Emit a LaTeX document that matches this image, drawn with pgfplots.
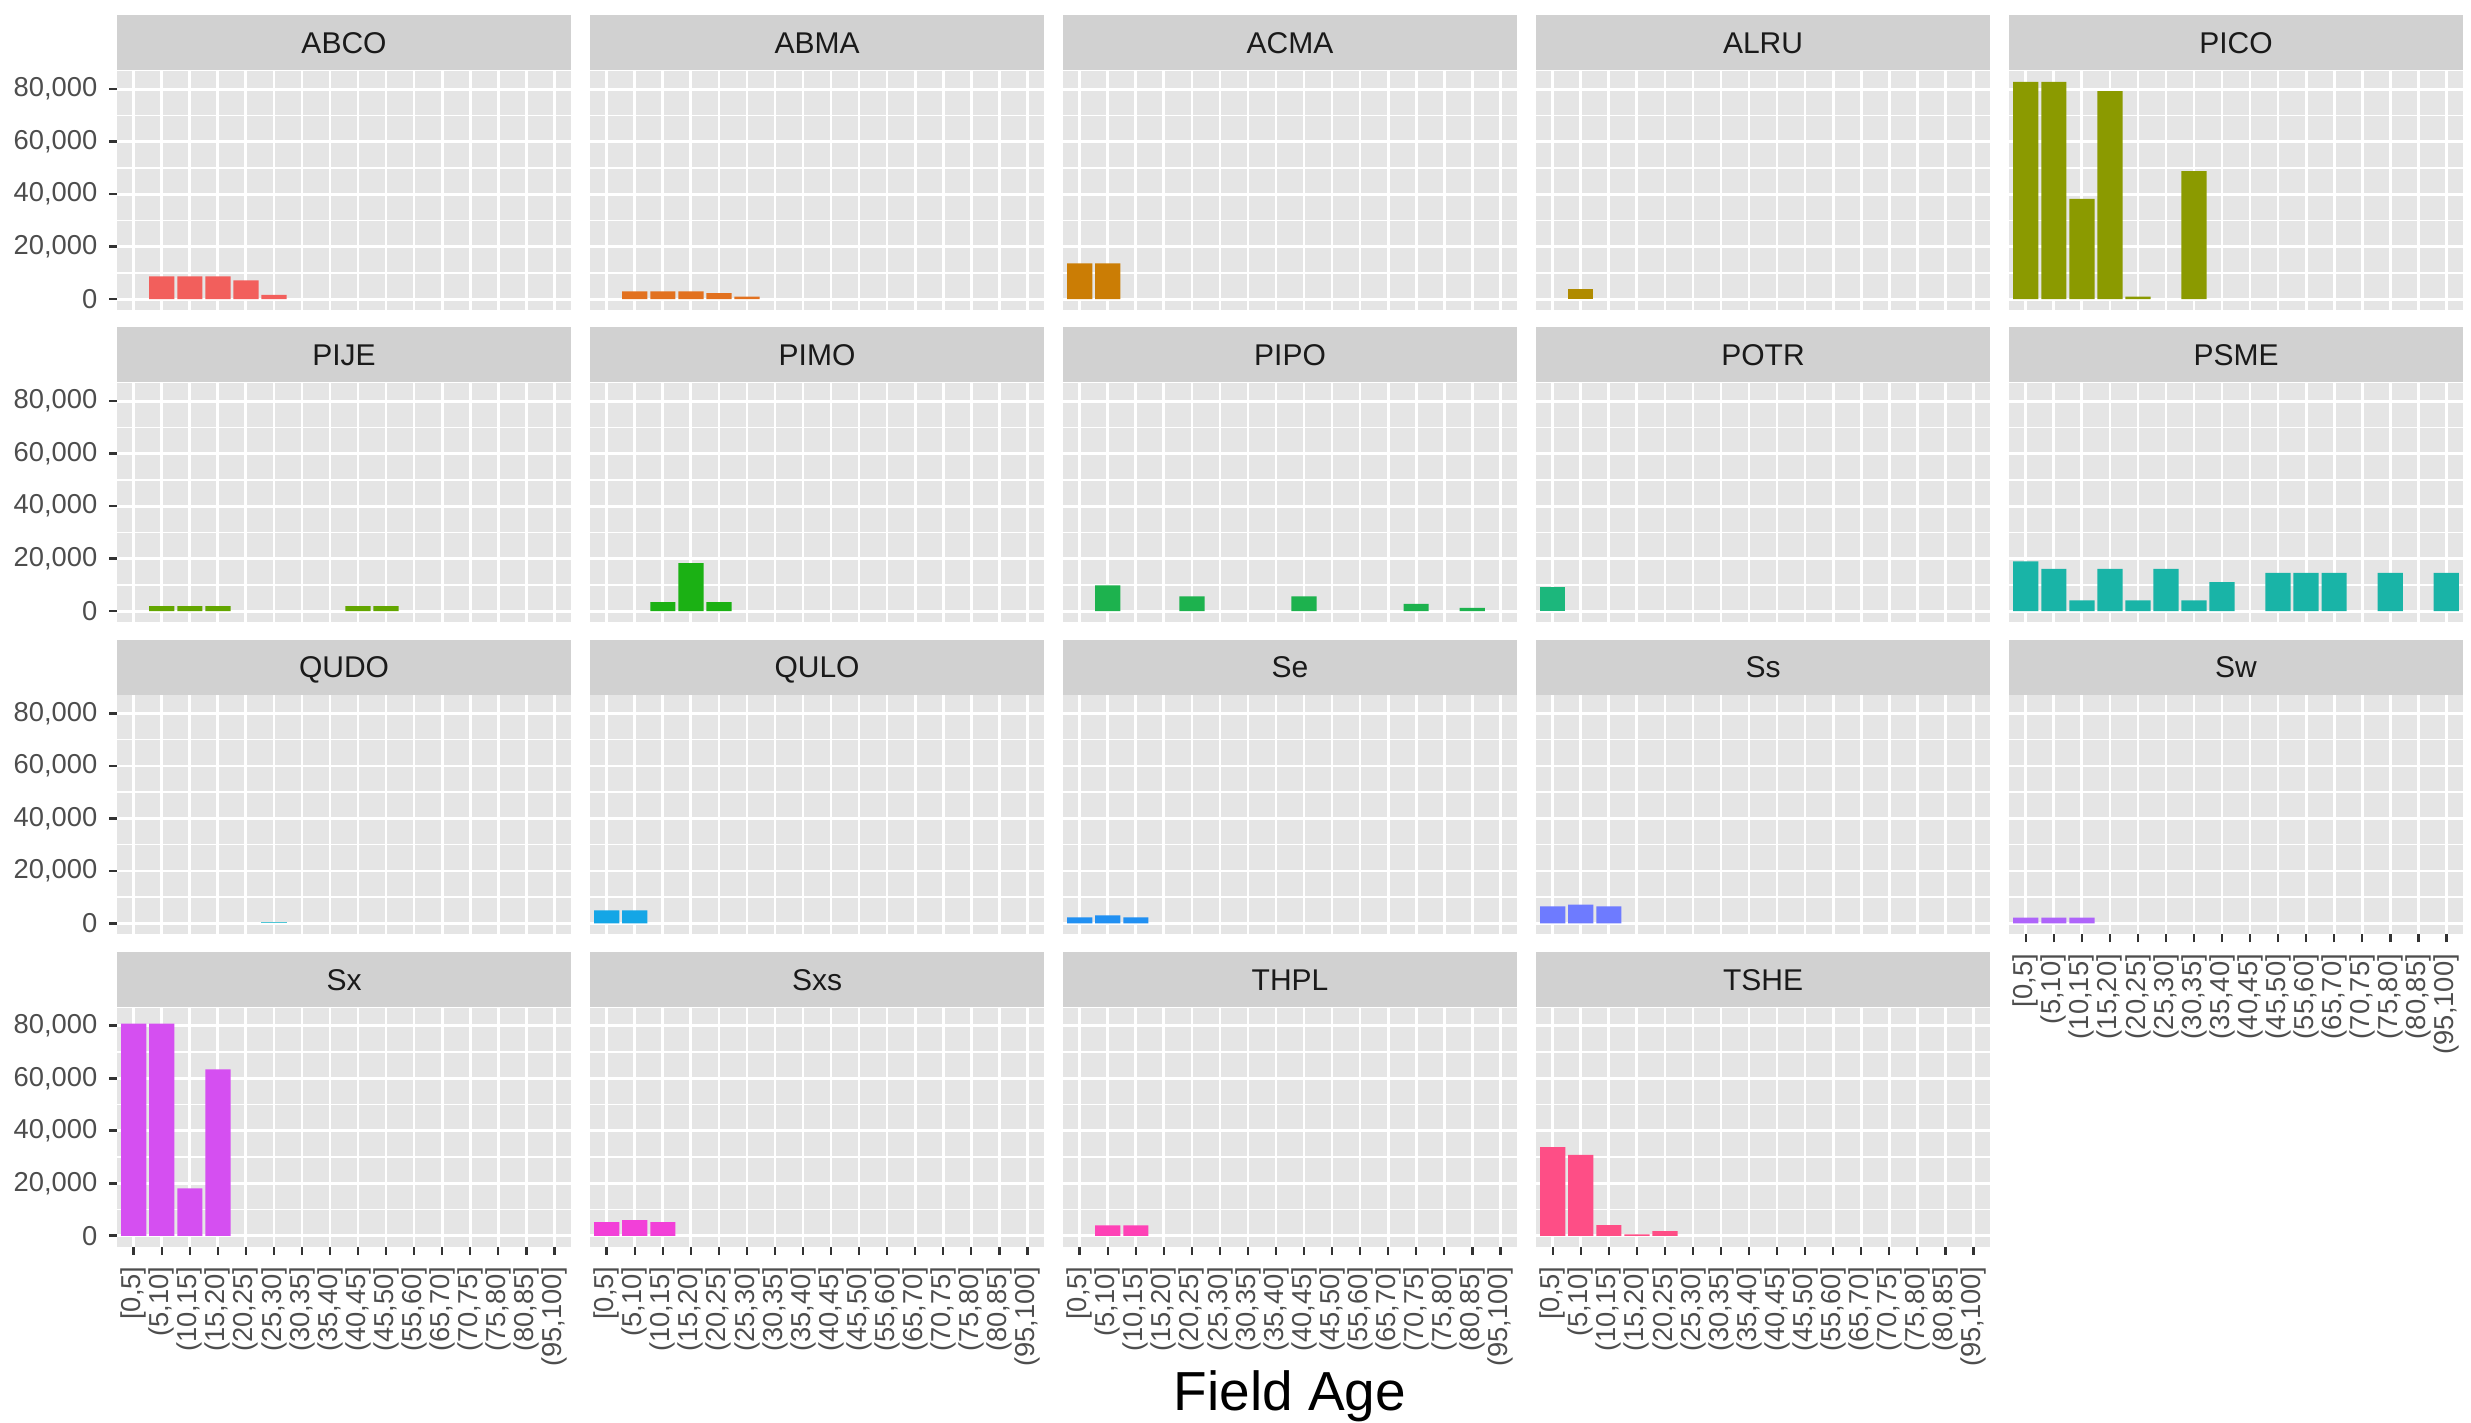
\documentclass[border=0pt]{standalone}
\usepackage{pgfplots}
\pgfplotsset{compat=1.18}
\usepackage{fontspec}
\setmainfont{Liberation Sans}

% panel and strip greys
\definecolor{panelbg}{HTML}{E5E5E5}
\definecolor{stripbg}{HTML}{D1D1D1}
\definecolor{ticklab}{HTML}{4D4D4D}
\definecolor{tickcol}{HTML}{333333}
\definecolor{striptext}{HTML}{1A1A1A}
% one fill per species
\definecolor{cABCO}{HTML}{F25F5C}
\definecolor{cABMA}{HTML}{E2711F}
\definecolor{cACMA}{HTML}{CB7D05}
\definecolor{cALRU}{HTML}{B08B00}
\definecolor{cPICO}{HTML}{8B9A00}
\definecolor{cPIJE}{HTML}{63A600}
\definecolor{cPIMO}{HTML}{1BB114}
\definecolor{cPIPO}{HTML}{1DB24E}
\definecolor{cPOTR}{HTML}{1CB77C}
\definecolor{cPSME}{HTML}{19B4A7}
\definecolor{cQUDO}{HTML}{4FC6D6}
\definecolor{cQULO}{HTML}{14A6E6}
\definecolor{cSe}{HTML}{2190F2}
\definecolor{cSs}{HTML}{6E7BFF}
\definecolor{cSw}{HTML}{AE64FA}
\definecolor{cSx}{HTML}{D54FF1}
\definecolor{cSxs}{HTML}{F240D8}
\definecolor{cTHPL}{HTML}{FE42B6}
\definecolor{cTSHE}{HTML}{FE4E86}

\pgfplotsset{
  facet/.style={
    width=136.2pt, height=71.7pt, scale only axis,
    anchor=south west,
    xmin=-0.6, xmax=15.6, ymin=-4150, ymax=86900,
    xtick={0,...,15},
    ytick={0,20000,40000,60000,80000},
    minor ytick={10000,30000,50000,70000},
    grid=both,
    major grid style={white, line width=0.85pt},
    minor grid style={white, line width=0.45pt},
    axis background/.style={fill=panelbg},
    axis line style={draw=none},
    tick pos=left,
    tick align=outside,
    major tick length=2.4pt, minor tick length=0pt,
    tick style={tickcol, line width=0.8pt},
    scaled y ticks=false,
    /pgf/number format/assume math mode=true,
    yticklabel style={/pgf/number format/.cd, fixed, 1000 sep={,}},
    tick label style={font=\fontsize{8.2}{9}\selectfont, text=ticklab},
    every axis title shift=0pt,
    title style={at={(0.5,1)}, anchor=south, yshift=0pt, inner sep=0pt,
      fill=stripbg, minimum width=136.2pt, minimum height=16.5pt,
      text height=6.5pt, text depth=0pt,
      text=striptext, font=\fontsize{9}{10}\selectfont},
  },
  xlab/.style={
    xticklabels={{[0,5]},{(5,10]},{(10,15]},{(15,20]},{(20,25]},{(25,30]},
      {(30,35]},{(35,40]},{(40,45]},{(45,50]},{(55,60]},{(65,70]},
      {(70,75]},{(75,80]},{(80,85]},{(95,100]}},
    xticklabel style={rotate=90, anchor=east},
  },
  noxlab/.style={xticklabels={}, xtick style={draw=none}},
  noylab/.style={yticklabels={}, ytick style={draw=none}},
  bar/.style={ybar, bar width=0.9, bar shift=0pt, draw=none, fill=#1},
}

\begin{document}
\begin{tikzpicture}
\path[use as bounding box] (0,0) rectangle (741.3pt,426.6pt);

% ---- row 1 ----
\begin{axis}[facet, noxlab, title=ABCO, at={(35.1pt,333.6pt)}]
\addplot[bar=cABCO] coordinates {(1,8630) (2,8630) (3,8630) (4,7110) (5,1650)};
\end{axis}
\begin{axis}[facet, noxlab, noylab, title=ABMA, at={(177.0pt,333.6pt)}]
\addplot[bar=cABMA] coordinates {(1,2900) (2,2900) (3,2900) (4,2300) (5,900)};
\end{axis}
\begin{axis}[facet, noxlab, noylab, title=ACMA, at={(318.9pt,333.6pt)}]
\addplot[bar=cACMA] coordinates {(0,13600) (1,13600)};
\end{axis}
\begin{axis}[facet, noxlab, noylab, title=ALRU, at={(460.8pt,333.6pt)}]
\addplot[bar=cALRU] coordinates {(1,3800)};
\end{axis}
\begin{axis}[facet, noxlab, noylab, title=PICO, at={(602.7pt,333.6pt)}]
\addplot[bar=cPICO] coordinates {(0,82800) (1,82800) (2,38200) (3,79200) (4,900) (6,48800)};
\end{axis}

% ---- row 2 ----
\begin{axis}[facet, noxlab, title=PIJE, at={(35.1pt,240.0pt)}]
\addplot[bar=cPIJE] coordinates {(1,1900) (2,1900) (3,1900) (8,1900) (9,1900)};
\end{axis}
\begin{axis}[facet, noxlab, noylab, title=PIMO, at={(177.0pt,240.0pt)}]
\addplot[bar=cPIMO] coordinates {(2,3400) (3,18300) (4,3400)};
\end{axis}
\begin{axis}[facet, noxlab, noylab, title=PIPO, at={(318.9pt,240.0pt)}]
\addplot[bar=cPIPO] coordinates {(1,9780) (4,5590) (8,5590) (12,2790) (14,1270)};
\end{axis}
\begin{axis}[facet, noxlab, noylab, title=POTR, at={(460.8pt,240.0pt)}]
\addplot[bar=cPOTR] coordinates {(0,9140)};
\end{axis}
\begin{axis}[facet, noxlab, noylab, title=PSME, at={(602.7pt,240.0pt)}]
\addplot[bar=cPSME] coordinates {(0,18900) (1,16100) (2,4060) (3,16100) (4,4060)
  (5,16100) (6,4060) (7,11050) (9,14600) (10,14600) (11,14600) (13,14600) (15,14600)};
\end{axis}

% ---- row 3 ----
\begin{axis}[facet, noxlab, title=QUDO, at={(35.1pt,146.3pt)}]
\addplot[bar=cQUDO] coordinates {(5,500)};
\end{axis}
\begin{axis}[facet, noxlab, noylab, title=QULO, at={(177.0pt,146.3pt)}]
\addplot[bar=cQULO] coordinates {(0,5000) (1,5000)};
\end{axis}
\begin{axis}[facet, noxlab, noylab, title=Se, at={(318.9pt,146.3pt)}]
\addplot[bar=cSe] coordinates {(0,2290) (1,3060) (2,2290)};
\end{axis}
\begin{axis}[facet, noxlab, noylab, title=Ss, at={(460.8pt,146.3pt)}]
\addplot[bar=cSs] coordinates {(0,6500) (1,7130) (2,6500)};
\end{axis}
\begin{axis}[facet, xlab, noylab, title=Sw, at={(602.7pt,146.3pt)}]
\addplot[bar=cSw] coordinates {(0,2200) (1,2200) (2,2200)};
\end{axis}

% ---- row 4 ----
\begin{axis}[facet, xlab, title=Sx, at={(35.1pt,52.6pt)}]
\addplot[bar=cSx] coordinates {(0,80800) (1,80800) (2,18100) (3,63400)};
\end{axis}
\begin{axis}[facet, xlab, noylab, title=Sxs, at={(177.0pt,52.6pt)}]
\addplot[bar=cSxs] coordinates {(0,5220) (1,5990) (2,5220)};
\end{axis}
\begin{axis}[facet, xlab, noylab, title=THPL, at={(318.9pt,52.6pt)}]
\addplot[bar=cTHPL] coordinates {(1,3950) (2,3950)};
\end{axis}
\begin{axis}[facet, xlab, noylab, title=TSHE, at={(460.8pt,52.6pt)}]
\addplot[bar=cTSHE] coordinates {(0,33760) (1,30830) (2,4080) (3,510) (4,1780)};
\end{axis}

\node[anchor=base, font=\fontsize{16.5}{18}\selectfont] at (387pt,3.45pt) {Field Age};
\end{tikzpicture}
\end{document}
